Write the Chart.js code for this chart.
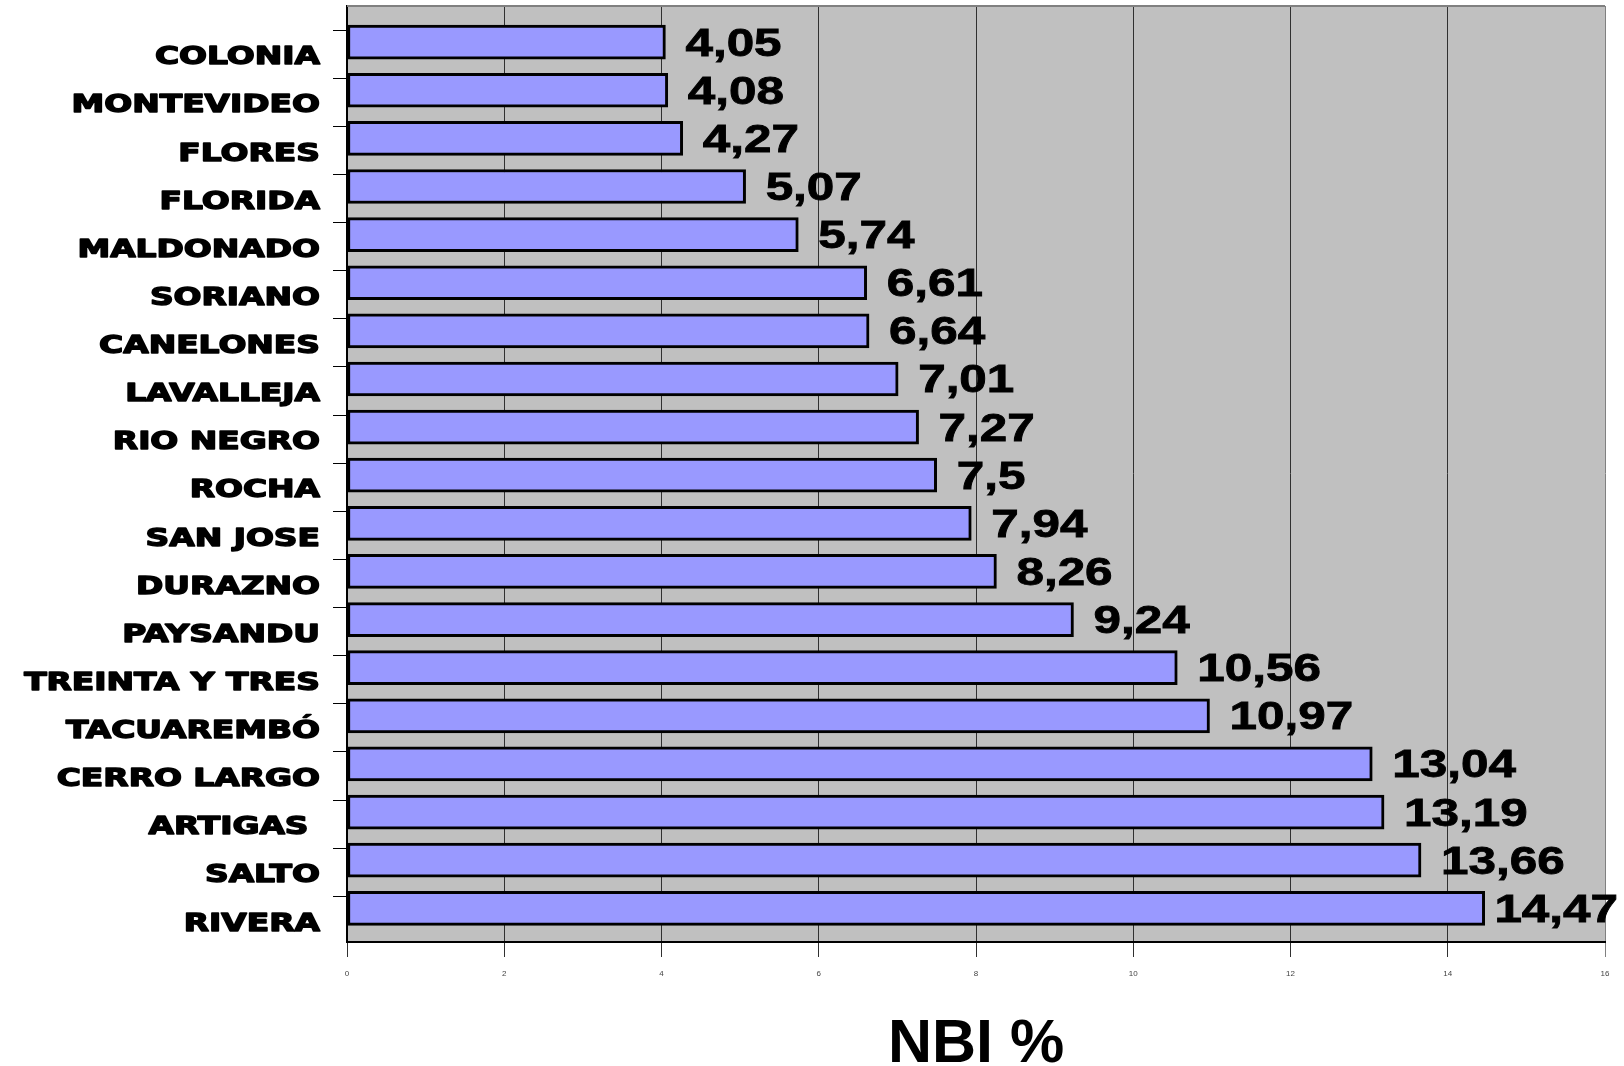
<!DOCTYPE html>
<html>
<head>
<meta charset="utf-8">
<script src="https://cdn.jsdelivr.net/npm/chart.js@4/dist/chart.umd.min.js"></script>
<style>
  body { margin: 0; background: #fff; }
</style>
</head>
<body>
<canvas id="nbi-chart" width="1624" height="1066"></canvas>
<script>
// departments, top to bottom
var categories = ['COLONIA', 'MONTEVIDEO', 'FLORES', 'FLORIDA', 'MALDONADO', 'SORIANO', 'CANELONES', 'LAVALLEJA', 'RIO NEGRO', 'ROCHA', 'SAN JOSE', 'DURAZNO', 'PAYSANDU', 'TREINTA Y TRES', 'TACUAREMBÓ', 'CERRO LARGO', 'ARTIGAS ', 'SALTO', 'RIVERA'];
var nbiValues = [4.05, 4.08, 4.27, 5.07, 5.74, 6.61, 6.64, 7.01, 7.27, 7.5, 7.94, 8.26, 9.24, 10.56, 10.97, 13.04, 13.19, 13.66, 14.47];
var xTickValues = [0, 2, 4, 6, 8, 10, 12, 14, 16];
var axisTitle = 'NBI %';

// grey plot background + grey top border
var plotFrame = {
    id: 'plotFrame',
    beforeDraw: function (chart) {
        var a = chart.chartArea, ctx = chart.ctx;
        ctx.save();
        ctx.fillStyle = '#c0c0c0';
        ctx.fillRect(a.left, a.top, a.right - a.left, a.bottom - a.top);
        ctx.restore();
    },
    afterDraw: function (chart) {
        var a = chart.chartArea, ctx = chart.ctx;
        ctx.save();
        ctx.strokeStyle = '#808080';
        ctx.lineWidth = 2;
        ctx.beginPath();
        ctx.moveTo(a.left, a.top);
        ctx.lineTo(a.right, a.top);
        ctx.stroke();
        ctx.restore();
    }
};

// wide heavy department names, placed from the y scale
var categoryLabels = {
    id: 'categoryLabels',
    afterDraw: function (chart) {
        var ctx = chart.ctx, y = chart.scales.y;
        ctx.save();
        ctx.fillStyle = '#000';
        ctx.strokeStyle = '#000';
        ctx.lineWidth = 1.4;
        ctx.lineJoin = 'round';
        ctx.font = 'bold 24px "DejaVu Sans"';
        ctx.textAlign = 'right';
        ctx.textBaseline = 'middle';
        categories.forEach(function (name, i) {
            ctx.save();
            ctx.translate(y.left + y.width - 27, y.getPixelForValue(i + 0.25) + 4);
            ctx.scale(1.37, 1);
            ctx.fillText(name, 0, 0);
            ctx.strokeText(name, 0, 0);
            ctx.restore();
        });
        ctx.restore();
    }
};

// value labels to the right of each bar
var valueLabels = {
    id: 'valueLabels',
    afterDatasetsDraw: function (chart) {
        var ctx = chart.ctx;
        var meta = chart.getDatasetMeta(0);
        ctx.save();
        ctx.fillStyle = '#000';
        ctx.strokeStyle = '#000';
        ctx.lineWidth = 0.8;
        ctx.font = 'bold 38px "Liberation Sans"';
        ctx.textAlign = 'left';
        ctx.textBaseline = 'middle';
        var stretch = 1.3;
        meta.data.forEach(function (bar, i) {
            var txt = String(nbiValues[i]).replace('.', ',');
            var w = ctx.measureText(txt).width * stretch;
            var x = Math.min(bar.x + 20, chart.width - w - 6);
            ctx.save();
            ctx.translate(x, bar.y + 3);
            ctx.scale(stretch, 1);
            ctx.fillText(txt, 0, 0);
            ctx.strokeText(txt, 0, 0);
            ctx.restore();
        });
        ctx.restore();
    }
};

var ctx1 = document.getElementById('nbi-chart').getContext('2d');
var nbiChart = new Chart(ctx1, {
    type: 'bar',
    data: {
        datasets: [{
            label: axisTitle,
            data: nbiValues.map(function (v, i) { return { x: v, y: i }; }),
            backgroundColor: '#9999ff',
            borderColor: '#000',
            borderWidth: 3,
            borderSkipped: false,
            barThickness: 34
        }]
    },
    options: {
        indexAxis: 'y',
        responsive: false,
        animation: false,
        layout: {
            padding: { top: 6, right: 19, left: 0, bottom: 0 }
        },
        plugins: {
            legend: { display: false },
            tooltip: { enabled: false }
        },
        scales: {
            x: {
                type: 'linear',
                min: 0,
                max: 16,
                afterBuildTicks: function (axis) {
                    axis.ticks = xTickValues.map(function (v) { return { value: v }; });
                },
                afterFit: function (axis) { axis.height = 124; },
                grid: {
                    color: function (c) { return c.tick && c.tick.value === 16 ? '#808080' : '#303030'; },
                    lineWidth: 1,
                    tickLength: 15
                },
                border: { color: '#000', width: 2 },
                ticks: {
                    padding: 12,
                    color: '#444',
                    font: { family: 'Liberation Sans', size: 8 }
                },
                title: {
                    display: true,
                    text: axisTitle,
                    color: '#000',
                    font: { family: 'Liberation Sans', size: 61, weight: 'bold', lineHeight: 1 },
                    padding: { top: 0, bottom: -10 }
                }
            },
            y: {
                type: 'linear',
                reverse: true,
                offset: false,
                min: -0.75,
                max: 18.7,
                afterBuildTicks: function (axis) {
                    axis.ticks = categories.map(function (c, i) { return { value: i - 0.25 }; });
                },
                afterFit: function (axis) { axis.width = 347; },
                grid: {
                    offset: false,
                    drawOnChartArea: false,
                    color: '#000',
                    tickLength: 14
                },
                border: { color: '#000', width: 2 },
                ticks: { display: false }
            }
        }
    },
    plugins: [plotFrame, categoryLabels, valueLabels]
});
</script>
</body>
</html>
